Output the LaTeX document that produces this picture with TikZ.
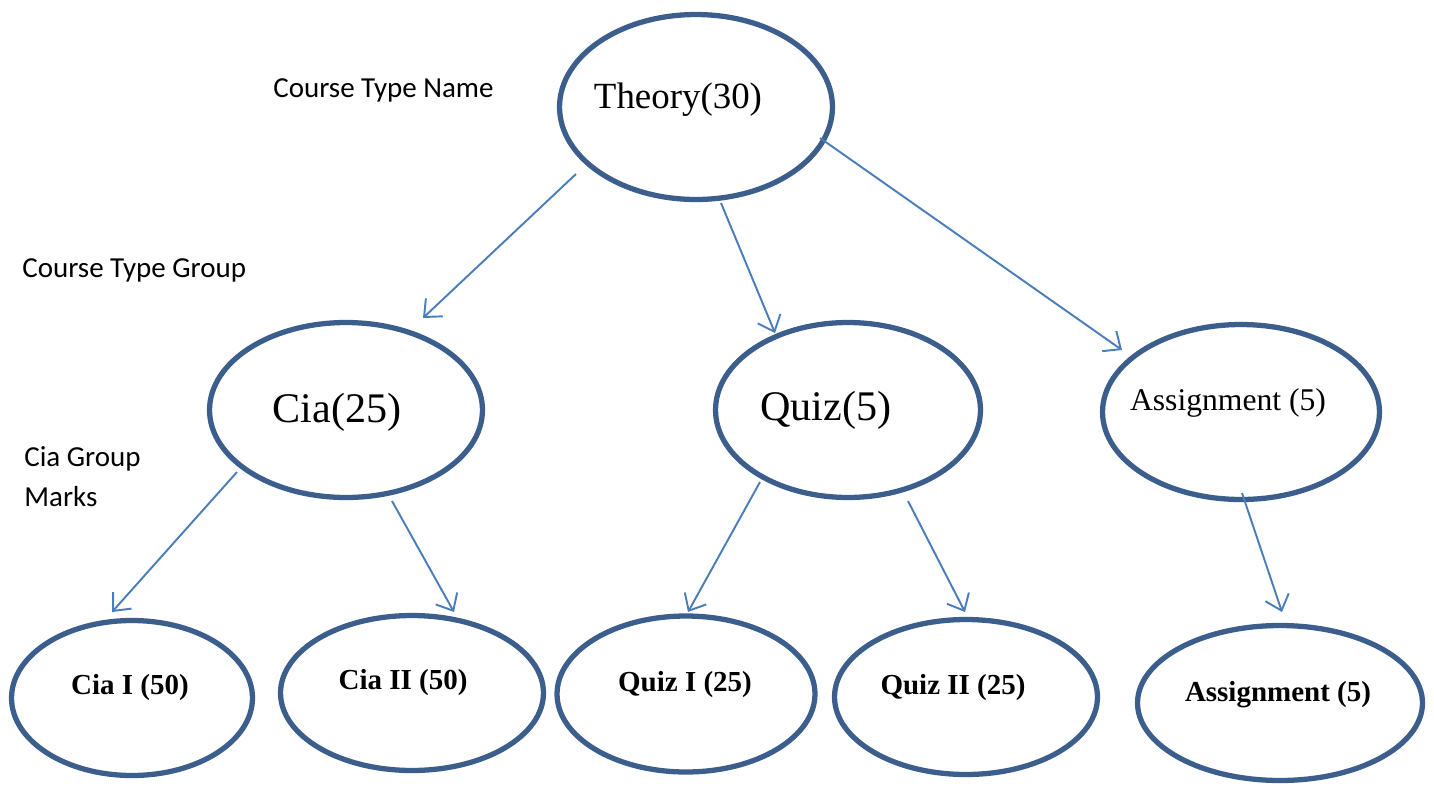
\documentclass[tikz,border=0pt]{standalone}
\usepackage{fontspec}
\setmainfont{Liberation Serif}
\newfontfamily\calib{Carlito}
\usepackage{tikz}
\usetikzlibrary{shapes,arrows.meta}
\definecolor{ringblue}{HTML}{3B5E8C}
\definecolor{arrowblue}{HTML}{4A7EBB}
\tikzstyle{ring}=[ellipse,draw=ringblue,line width=3pt,inner sep=0pt]
\tikzstyle{arr}=[draw=arrowblue,line width=1.1pt,-{Straight Barb[length=8pt,width=14pt]}]
\tikzstyle{side}=[font=\calib\fontsize{16.5}{22.7}\selectfont,align=left,inner sep=0pt]
\tikzstyle{big}=[font=\fontsize{24}{28}\selectfont,inner sep=0pt]
\tikzstyle{leaf}=[font=\bfseries\fontsize{16.5}{20}\selectfont,inner sep=0pt]

\begin{document}
\begin{tikzpicture}[x=0.02cm,y=-0.02cm]
        \useasboundingbox (0,0) rectangle (1434,785);
        % ellipses
        \node[ring,minimum width=5.46cm,minimum height=3.7cm] (theory) at (696,107) {};
        \node[ring,minimum width=5.46cm,minimum height=3.5cm] (cia) at (346,410) {};
        \node[ring,minimum width=5.30cm,minimum height=3.5cm] (quiz) at (848,410) {};
        \node[ring,minimum width=5.54cm,minimum height=3.5cm] (assign) at (1241,412) {};
        \node[ring,minimum width=4.82cm,minimum height=3.1cm] (ciaone) at (132,698) {};
        \node[ring,minimum width=5.26cm,minimum height=3.1cm] (ciatwo) at (412,693) {};
        \node[ring,minimum width=5.16cm,minimum height=3.12cm] (quizone) at (686,694) {};
        \node[ring,minimum width=5.26cm,minimum height=3.1cm] (quiztwo) at (966,697) {};
        \node[ring,minimum width=5.70cm,minimum height=3.1cm] (assignb) at (1280,703) {};
        % texts
        \node[font=\fontsize{21}{25}\selectfont,inner sep=0pt] (theory-t) at ([shift={(-18,-7)}]theory.center) {Theory(30)};
        \node[big] (cia-t) at ([shift={(-9,2)}]cia.center) {Cia(25)};
        \node[big] (quiz-t) at ([shift={(-22,0)}]quiz.center) {Quiz(5)};
        \node[font=\fontsize{18}{22}\selectfont,inner sep=0pt] (assign-t) at ([shift={(-13,-9)}]assign.center) {Assignment (5)};
        \node[leaf] (ciaone-t) at ([shift={(-2,-10)}]ciaone.center) {Cia I (50)};
        \node[leaf] (ciatwo-t) at ([shift={(-9,-10)}]ciatwo.center) {Cia II (50)};
        \node[leaf] (quizone-t) at ([shift={(-1,-9)}]quizone.center) {Quiz I (25)};
        \node[leaf] (quiztwo-t) at ([shift={(-13,-9)}]quiztwo.center) {Quiz II (25)};
        \node[leaf] (assignb-t) at ([shift={(-2,-8)}]assignb.center) {Assignment (5)};
        % level names
        \node[side,anchor=west] (typename) at (273,90) {Course Type Name};
        \node[side,anchor=west] (typegroup) at (22,270) {Course Type Group};
        \node[side,anchor=west] (groupmarks) at (24,477) {Cia Group\\Marks};
        % arrows
        \draw[arr] ([shift={(-120,67)}]theory.center) -- ([shift={(77,-92)}]cia.center);
        \draw[arr] ([shift={(25,96)}]theory.center) -- ([shift={(-73,-77)}]quiz.center);
        \draw[arr] ([shift={(124,31)}]theory.center) -- ([shift={(-119,-62)}]assign.center);
        \draw[arr] ([shift={(-109,62)}]cia.center) -- ([shift={(-20,-86)}]ciaone.center);
        \draw[arr] ([shift={(46,91)}]cia.center) -- ([shift={(42,-81)}]ciatwo.center);
        \draw[arr] ([shift={(-88,72)}]quiz.center) -- ([shift={(2,-82)}]quizone.center);
        \draw[arr] ([shift={(60,91)}]quiz.center) -- ([shift={(-1,-85)}]quiztwo.center);
        \draw[arr] ([shift={(1,81)}]assign.center) -- ([shift={(2,-91)}]assignb.center);
\end{tikzpicture}
\end{document}
